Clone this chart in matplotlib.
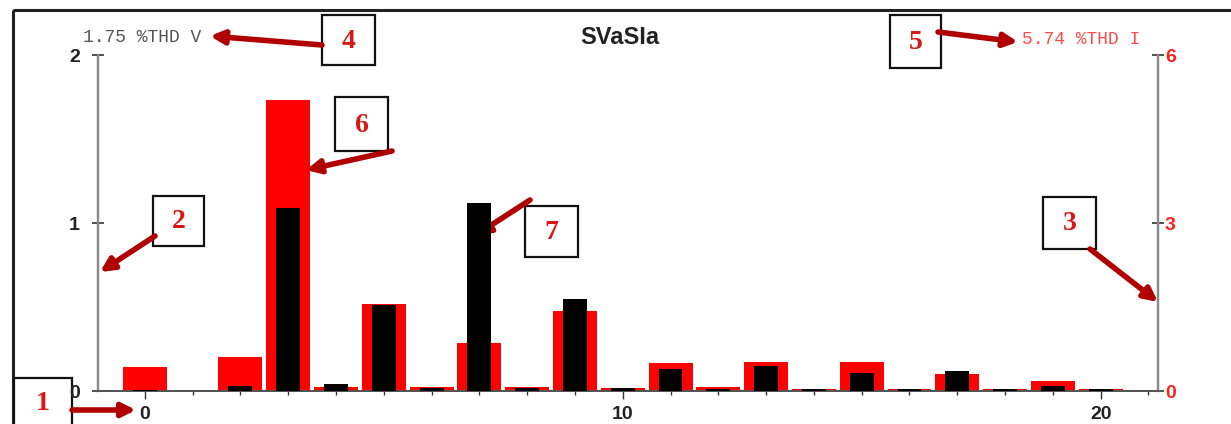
import numpy as np
import matplotlib.pyplot as plt
from matplotlib.patches import Rectangle
from matplotlib.ticker import MultipleLocator

# harmonic order and values
harmonics = list(range(21))
thd_i = [0.43, 0.0, 0.61, 5.20, 0.08, 1.55, 0.08, 0.86, 0.08, 1.43, 0.05,
         0.50, 0.07, 0.52, 0.03, 0.52, 0.03, 0.30, 0.03, 0.18, 0.03]   # red, right axis
thd_v = [0.005, 0.0, 0.03, 1.09, 0.04, 0.51, 0.02, 1.12, 0.02, 0.55, 0.015,
         0.13, 0.01, 0.15, 0.01, 0.11, 0.01, 0.12, 0.01, 0.03, 0.01]   # black, left axis
title = "SVaSIa"
thd_v_text = "1.75 %THD V"
thd_i_text = "5.74 %THD I"

W, H = 1231, 424
fig = plt.figure(figsize=(W / 100, H / 100), dpi=100)

# main axes (voltage, left) and twin (current, right)
ax = fig.add_axes([98 / W, 1 - 391 / H, (1158 - 98) / W, (391 - 55) / H])
ax2 = ax.twinx()
ax.set_zorder(ax2.get_zorder() + 1)
ax.patch.set_visible(False)

ax2.bar(harmonics, thd_i, width=0.92, color='#ff0000', zorder=2)
ax.bar(harmonics, thd_v, width=0.5, color='black', zorder=3)

ax.set_xlim(-0.98, 21.2)
ax.set_ylim(0, 2)
ax2.set_ylim(0, 6)

ax.set_xticks([0, 10, 20])
ax.xaxis.set_minor_locator(MultipleLocator(1))
ax.set_yticks([0, 1, 2])
ax2.set_yticks([0, 3, 6])

for a in (ax, ax2):
    a.spines['top'].set_visible(False)
    a.spines['left'].set_color('#8a8a8a')
    a.spines['right'].set_color('#8a8a8a')
    a.spines['bottom'].set_color('#555555')
    a.spines['left'].set_linewidth(1.6)
    a.spines['right'].set_linewidth(1.6)
    a.spines['bottom'].set_linewidth(1.4)

ax.tick_params(axis='x', which='major', length=6, width=1, color='#333333', pad=5,
               labelsize=14, labelcolor='#222222')
ax.tick_params(axis='x', which='minor', length=3, width=1, color='#333333')
ax.tick_params(axis='y', direction='inout', length=8, width=1.2, color='#333333',
               labelsize=14, labelcolor='#222222', pad=9)
ax2.tick_params(axis='y', direction='inout', length=8, width=1.2, color='#333333',
                labelsize=14, labelcolor='#ff2020', pad=1)
for lab in ax.get_xticklabels() + ax.get_yticklabels() + ax2.get_yticklabels():
    lab.set_fontweight('bold')
    lab.set_family('Liberation Sans')

# overlay in pixel coordinates for title, THD texts, frame and callouts
ov = fig.add_axes([0, 0, 1, 1])
ov.set_xlim(0, W)
ov.set_ylim(H, 0)
ov.set_axis_off()
ov.patch.set_visible(False)

ov.add_patch(Rectangle((13, 10), W + 20, H, fill=False, ec='#222222', lw=2.2))
ov.text(620, 38, title, ha='center', va='center', fontsize=17, fontweight='bold',
        family='Liberation Sans', color='#222222')
ov.text(83, 38, thd_v_text, ha='left', va='center', fontsize=13,
        family='Liberation Mono', color='#555555')
ov.text(1022, 40, thd_i_text, ha='left', va='center', fontsize=13,
        family='Liberation Mono', color='#ff4a4a')

# numbered callout boxes: label, box (x0, y0, w, h), arrow start, arrow end
callouts = [
    ("1", (14, 378, 58, 50), (72, 410), (136, 410)),
    ("2", (153, 196, 51, 50), (155, 236), (100, 272)),
    ("3", (1043, 197, 53, 52), (1090, 249), (1158, 302)),
    ("4", (322, 15, 53, 50), (322, 45), (210, 36)),
    ("5", (890, 15, 51, 53), (938, 32), (1018, 42)),
    ("6", (335, 97, 53, 54), (392, 151), (306, 170)),
    ("7", (525, 206, 53, 51), (530, 200), (476, 235)),
]
for num, (x0, y0, w, h), start, end in callouts:
    ov.add_patch(Rectangle((x0, y0), w, h, fill=True, fc='white', ec='#111111', lw=1.6))
    ov.text(x0 + w / 2, y0 + h / 2 + 1, num, ha='center', va='center', fontsize=20,
            fontweight='bold', family='Liberation Serif', color='#d81818')
    ov.annotate('', xy=end, xytext=start,
                arrowprops=dict(arrowstyle='-|>', color='#b00000', lw=4,
                                mutation_scale=20, shrinkA=0, shrinkB=0))

fig.savefig('out.png', dpi=100)
